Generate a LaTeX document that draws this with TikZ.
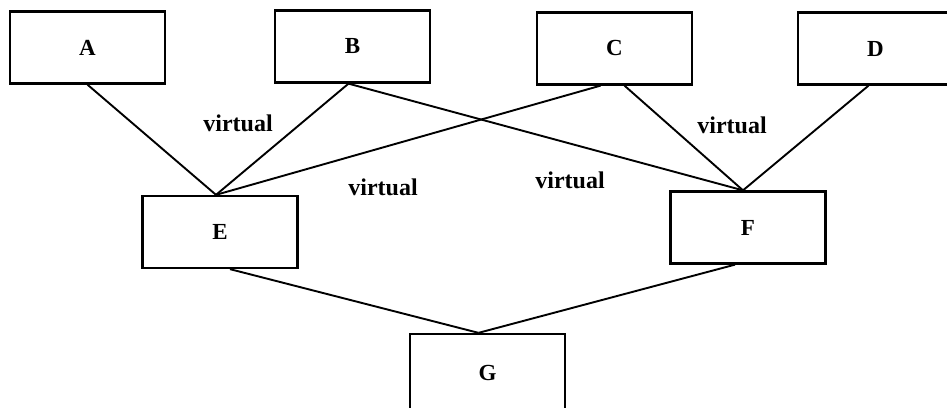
\documentclass[tikz,border=0pt]{standalone}
\usepackage{fontspec}
\setmainfont{Liberation Serif}
\usepackage{tikz}
\tikzset{%
  blk/.style={draw, line width=2.3pt, minimum width=155pt, minimum height=72pt, font=\fontsize{23}{23}\selectfont\bfseries},
  lnk/.style={line width=1.9pt},
  lbl/.style={font=\fontsize{24}{24}\selectfont\bfseries}
}
\begin{document}
\begin{tikzpicture}[x=1pt,y=1pt]
\clip (0,0) rectangle (947,407);
\node[blk] (A) at (87.5,359.5) {A};
\node[blk] (B) at (352.5,360.5) {B};
\node[blk] (C) at (614.5,358.5) {C};
\node[blk] (D) at (875.5,358.5) {D};
\node[blk] (E) at (220,175) {E};
\node[blk] (F) at (748,179.5) {F};
\node[blk, minimum height=78pt] (G) at (487.5,34) {G};
\draw[lnk] (A.south) -- ([xshift=-4pt]E.north);
\draw[lnk] ([xshift=-4pt]B.south) -- ([xshift=-4pt]E.north);
\draw[lnk] ([xshift=-14pt]C.south) -- ([xshift=-4pt]E.north);
\draw[lnk] ([xshift=-4pt]B.south) -- ([xshift=-5pt]F.north);
\draw[lnk] ([xshift=10pt]C.south) -- ([xshift=-5pt]F.north);
\draw[lnk] ([xshift=-7pt]D.south) -- ([xshift=-5pt]F.north);
\draw[lnk] ([xshift=10pt]E.south) -- ([xshift=-9pt]G.north);
\draw[lnk] ([xshift=-13pt]F.south) -- ([xshift=-9pt]G.north);
\node[lbl] (v1) at (238,284) {virtual};
\node[lbl] (v2) at (383,220) {virtual};
\node[lbl] (v3) at (732,282) {virtual};
\node[lbl] (v4) at (570,227) {virtual};
\end{tikzpicture}
\end{document}
